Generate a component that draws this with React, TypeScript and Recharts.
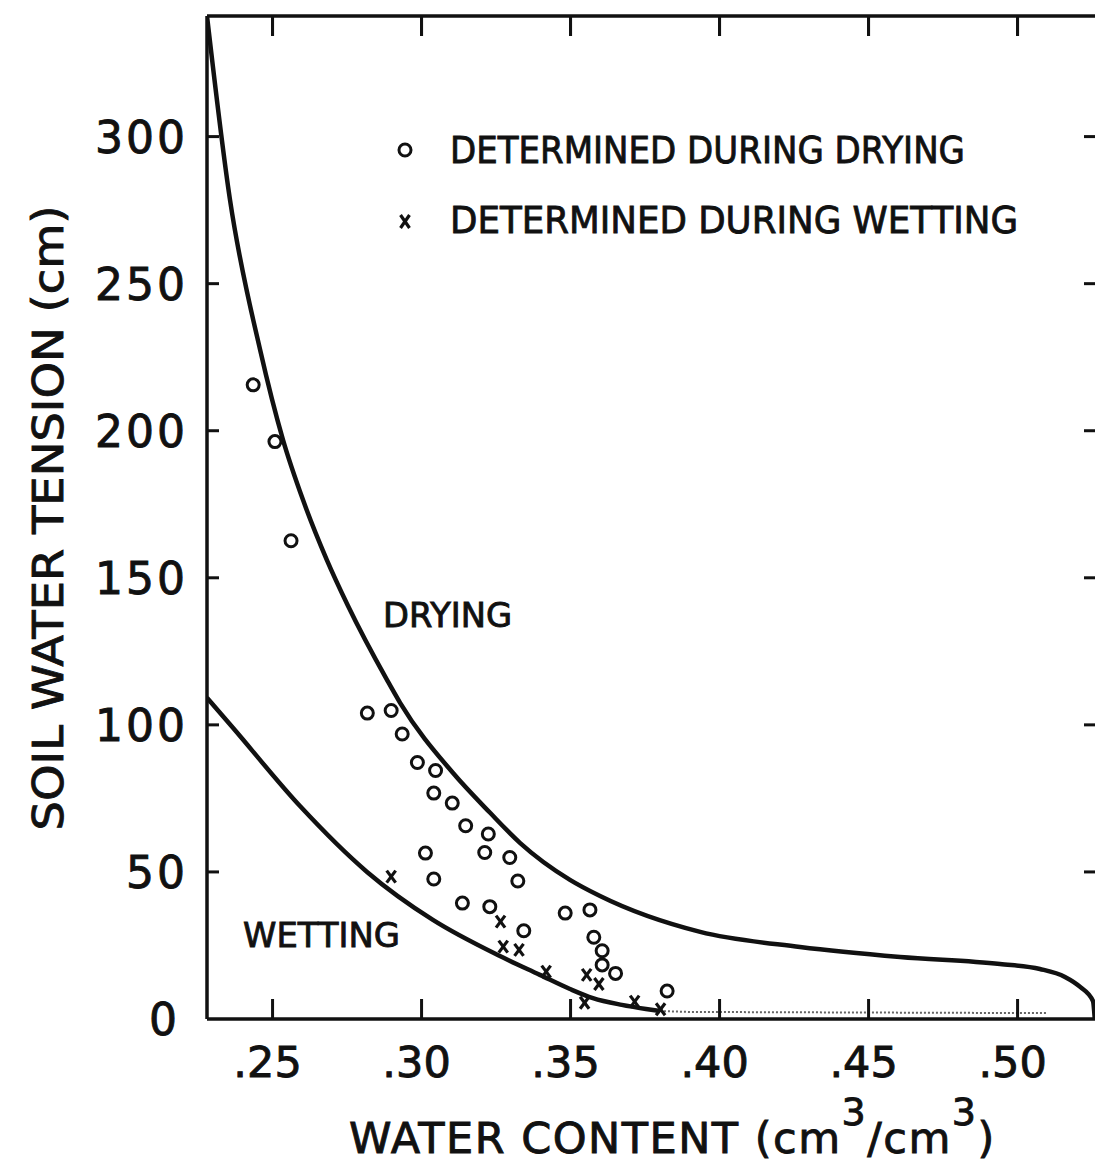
import { ComposedChart, Line, Scatter, XAxis, YAxis } from "recharts";

// curve readings, water content (cm3/cm3) vs tension (cm)
const dryingCurveTheta = [0.228, 0.2357, 0.2458, 0.2535, 0.2602, 0.2682, 0.2753, 0.2884, 0.2928, 0.3105, 0.323, 0.333, 0.3498, 0.3599, 0.3935, 0.427, 0.4606, 0.4941, 0.5075, 0.5159, 0.521, 0.5253, 0.5259];
const dryingCurveTension = [341, 278.6, 227.6, 196.9, 176.5, 156.1, 140.5, 115.3, 107.5, 83.7, 70.1, 59.9, 47.3, 41.8, 29.6, 24.5, 21.1, 18.7, 17, 14.3, 10.9, 6.1, 0];

const wettingCurveTheta = [0.228, 0.2367, 0.2592, 0.2817, 0.3038, 0.3263, 0.3397, 0.3498, 0.3575, 0.3672, 0.3753, 0.38];
const wettingCurveTension = [109.2, 99, 72.4, 50, 33.7, 21.4, 15, 10.2, 7.1, 4.8, 3.4, 2.7];

const wettingTailTheta = [0.38, 0.39, 0.51];
const wettingTailTension = [2.7, 2.4, 2];

const dryingPointTheta = [0.2435, 0.2508, 0.2562, 0.2818, 0.2898, 0.2935, 0.2986, 0.3047, 0.3041, 0.3103, 0.3148, 0.3224, 0.3212, 0.3296, 0.3013, 0.3323, 0.3041, 0.3137, 0.3229, 0.3482, 0.3343, 0.3565, 0.3578, 0.3606, 0.3606, 0.3651, 0.3824];
const dryingPointTension = [215.6, 196.3, 162.6, 104, 104.9, 96.9, 87.2, 84.5, 76.8, 73.4, 65.7, 62.9, 56.6, 54.9, 56.4, 46.9, 47.6, 39.4, 38.2, 36, 30, 37.1, 27.8, 23.2, 18.4, 15.5, 9.5];

const wettingPointTheta = [0.2898, 0.3265, 0.3274, 0.3327, 0.3418, 0.3554, 0.3595, 0.3547, 0.3715, 0.3802];
const wettingPointTension = [48.4, 33.1, 24.6, 23.5, 16.1, 15, 11.9, 5.5, 5.9, 3.3];

const xTicks = [0.25, 0.3, 0.35, 0.4, 0.45, 0.5];
const yTicks = [0, 50, 100, 150, 200, 250, 300];
const rightTicks = [50, 100, 150, 200, 250, 300];

const zip = (xs: number[], ys: number[]) => xs.map((x, i) => ({ x, y: ys[i] }));

const dryingCurve = zip(dryingCurveTheta, dryingCurveTension);
const wettingCurve = zip(wettingCurveTheta, wettingCurveTension);
const wettingTail = zip(wettingTailTheta, wettingTailTension);
const dryingPoints = zip(dryingPointTheta, dryingPointTension);
const wettingPoints = zip(wettingPointTheta, wettingPointTension);

const INK = "#111";
const FONT = '"DejaVu Sans", sans-serif';
const X_DOMAIN: [number, number] = [0.228, 0.52598];
const Y_DOMAIN: [number, number] = [0, 341];

const CHART_W = 1088;
const CHART_H = 1154;
const PAD = 8;
const MARGIN_TOP = 7;
const TOP_AXIS_H = 1;
const LEFT_AXIS_W = 199;
const RIGHT_AXIS_W = 1;
const PLOT_TOP = MARGIN_TOP + TOP_AXIS_H;
const PLOT_W = CHART_W - LEFT_AXIS_W - RIGHT_AXIS_W;

const fmtTheta = (v: number) => v.toFixed(2).replace(/^0/, "");
const frameX = (t: number) => LEFT_AXIS_W + ((t - X_DOMAIN[0]) / (X_DOMAIN[1] - X_DOMAIN[0])) * PLOT_W;

// heavier lettering, like the pen lettering in the original
const ink = { fill: INK, stroke: INK, strokeWidth: 0.9, fontFamily: FONT };

function LeftTick({ x, y, payload }: any) {
  const v = payload.value as number;
  return (
    <g>
      {v > 0 && <line x1={x} y1={y} x2={x + 12} y2={y} stroke={INK} strokeWidth={3} />}
      <text x={v === 0 ? x - 27 : x - 19} y={y + 16} textAnchor="end" fontSize={44} letterSpacing={3} {...ink}>
        {v}
      </text>
    </g>
  );
}

function RightTick({ x, y }: any) {
  return <line x1={x - 11} y1={y} x2={x} y2={y} stroke={INK} strokeWidth={3} />;
}

function BottomTick({ x, y, payload }: any) {
  return (
    <g>
      <line x1={x} y1={y} x2={x} y2={y - 20} stroke={INK} strokeWidth={3} />
      <rect x={x - 1.5} y={PLOT_TOP} width={3} height={20} fill={INK} />
      <text x={x - 5} y={y + 58} textAnchor="middle" fontSize={43} {...ink}>
        {fmtTheta(payload.value)}
      </text>
    </g>
  );
}

function OpenCircle(props: any) {
  const { cx, cy } = props;
  return <circle cx={cx} cy={cy} r={6} fill="none" stroke={INK} strokeWidth={3} />;
}

function Cross(props: any) {
  const { cx, cy } = props;
  return (
    <g stroke={INK} strokeWidth={3.2}>
      <line x1={cx - 4.5} y1={cy - 6} x2={cx + 4.5} y2={cy + 6} />
      <line x1={cx + 4.5} y1={cy - 6} x2={cx - 4.5} y2={cy + 6} />
    </g>
  );
}

function Annotations() {
  return (
    <g>
      {/* legend */}
      <circle cx={397} cy={142} r={6} fill="none" stroke={INK} strokeWidth={3} />
      <text x={442} y={155} fontSize={38} textLength={515} lengthAdjust="spacingAndGlyphs" {...ink}>
        DETERMINED DURING DRYING
      </text>
      <g stroke={INK} strokeWidth={3.2}>
        <line x1={392.5} y1={207} x2={401.5} y2={220} />
        <line x1={401.5} y1={207} x2={392.5} y2={220} />
      </g>
      <text x={442} y={225} fontSize={38} textLength={568} lengthAdjust="spacingAndGlyphs" {...ink}>
        DETERMINED DURING WETTING
      </text>

      {/* curve names */}
      <text x={375} y={619} fontSize={33} textLength={129} lengthAdjust="spacingAndGlyphs" {...ink}>
        DRYING
      </text>
      <text x={235} y={939} fontSize={34} textLength={157} lengthAdjust="spacingAndGlyphs" {...ink}>
        WETTING
      </text>

      {/* axis titles */}
      <text x={341} y={1145} fontSize={43} letterSpacing={1.5} {...ink}>
        WATER CONTENT (cm
        <tspan fontSize={38} dy={-28}>3</tspan>
        <tspan dy={28}>/cm</tspan>
        <tspan fontSize={38} dy={-28}>3</tspan>
        <tspan dy={28}>)</tspan>
      </text>
      <text
        x={55}
        y={510}
        fontSize={43}
        textAnchor="middle"
        textLength={625}
        lengthAdjust="spacingAndGlyphs"
        transform="rotate(-90 55 510)"
        {...ink}
      >
        SOIL WATER TENSION (cm)
      </text>
    </g>
  );
}

// ticks hanging from the top frame line, laid over the chart as plain boxes
function TopFrameTicks() {
  return (
    <>
      {xTicks.map((t) => (
        <div
          key={t}
          style={{
            position: "absolute",
            left: PAD + frameX(t) - 1.5,
            top: PAD + PLOT_TOP,
            width: 3,
            height: 20,
            background: INK,
            zIndex: 10
          }}
        />
      ))}
    </>
  );
}

export default function App() {
  return (
    <div style={{ position: "relative", padding: `${PAD}px 0 0 ${PAD}px`, background: "#fff" }}>
      <style>{"body{margin:0;overflow:hidden;background:#fff}"}</style>
      <ComposedChart width={CHART_W} height={CHART_H} margin={{ top: MARGIN_TOP, right: 0, bottom: 0, left: 0 }}>
        <XAxis
          xAxisId="b"
          type="number"
          dataKey="x"
          domain={X_DOMAIN}
          allowDataOverflow
          ticks={xTicks}
          interval={0}
          height={143}
          tickSize={0}
          tickMargin={0}
          tickLine={false}
          axisLine={{ stroke: INK, strokeWidth: 3.5 }}
          tick={<BottomTick />}
        />
        <XAxis
          xAxisId="t"
          orientation="top"
          type="number"
          dataKey="x"
          domain={X_DOMAIN}
          allowDataOverflow
          ticks={xTicks}
          interval={0}
          height={TOP_AXIS_H}
          tickLine={false}
          tick={false}
          axisLine={{ stroke: INK, strokeWidth: 3.5 }}
        />
        <YAxis
          yAxisId="l"
          type="number"
          domain={Y_DOMAIN}
          allowDataOverflow
          ticks={yTicks}
          interval={0}
          width={LEFT_AXIS_W}
          tickSize={0}
          tickMargin={0}
          tickLine={false}
          axisLine={{ stroke: INK, strokeWidth: 3.5 }}
          tick={<LeftTick />}
        />
        <YAxis
          yAxisId="r"
          orientation="right"
          type="number"
          domain={Y_DOMAIN}
          allowDataOverflow
          ticks={rightTicks}
          interval={0}
          width={RIGHT_AXIS_W}
          tickSize={0}
          tickMargin={0}
          tickLine={false}
          axisLine={false}
          tick={<RightTick />}
        />
        <Line
          xAxisId="b"
          yAxisId="l"
          data={dryingCurve}
          dataKey="y"
          type="monotone"
          stroke={INK}
          strokeWidth={4.5}
          dot={false}
          activeDot={false}
          isAnimationActive={false}
        />
        <Line
          xAxisId="b"
          yAxisId="l"
          data={wettingCurve}
          dataKey="y"
          type="monotone"
          stroke={INK}
          strokeWidth={4.5}
          dot={false}
          activeDot={false}
          isAnimationActive={false}
        />
        <Line
          xAxisId="b"
          yAxisId="l"
          data={wettingTail}
          dataKey="y"
          type="linear"
          stroke="#666"
          strokeWidth={2}
          strokeDasharray="2 2"
          dot={false}
          activeDot={false}
          isAnimationActive={false}
        />
        <Scatter xAxisId="b" yAxisId="l" data={dryingPoints} dataKey="y" shape={<OpenCircle />} isAnimationActive={false} />
        <Scatter xAxisId="b" yAxisId="l" data={wettingPoints} dataKey="y" shape={<Cross />} isAnimationActive={false} />
        <Annotations />
      </ComposedChart>
      <TopFrameTicks />
    </div>
  );
}
